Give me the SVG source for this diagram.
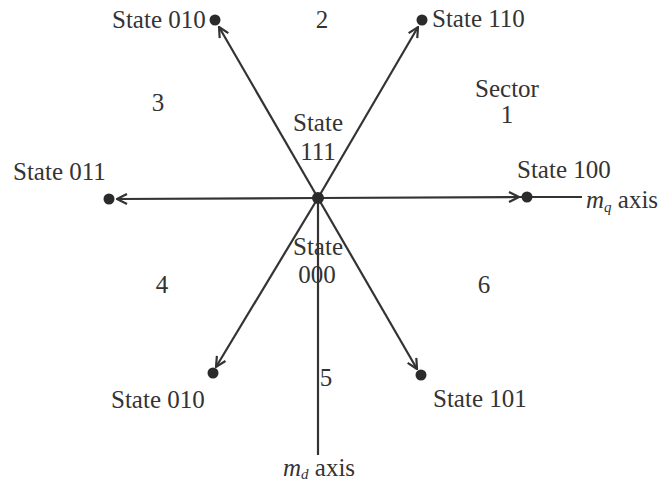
<svg xmlns="http://www.w3.org/2000/svg" width="662" height="485" viewBox="0 0 662 485">
<style>
text{font-family:"Liberation Serif","Tinos","DejaVu Serif","Times New Roman",serif;font-size:25px;fill:#333}
.ln{stroke:#333;stroke-width:2.2;fill:none}
.dot{fill:#2b2b2b}
.it{font-style:italic}
.sub{font-size:15px;font-style:italic}
</style>
<defs>
<marker id="ar" viewBox="0 0 12 12" refX="11" refY="6" markerWidth="12" markerHeight="12" markerUnits="userSpaceOnUse" orient="auto">
<polyline points="1,1 11,6 1,11" fill="none" stroke="#333" stroke-width="2.2"/>
</marker>
</defs>
<rect width="662" height="485" fill="#fff"/>
<g id="connectors">
<line class="ln" x1="318" y1="198" x2="219" y2="27" marker-end="url(#ar)"/>
<line class="ln" x1="318" y1="198" x2="418" y2="27" marker-end="url(#ar)"/>
<line class="ln" x1="318" y1="198" x2="117" y2="199" marker-end="url(#ar)"/>
<line class="ln" x1="318" y1="198" x2="519" y2="197" marker-end="url(#ar)"/>
<line class="ln" x1="318" y1="198" x2="216" y2="367" marker-end="url(#ar)"/>
<line class="ln" x1="318" y1="198" x2="417" y2="369" marker-end="url(#ar)"/>
<line class="ln" x1="519" y1="197" x2="582" y2="197"/>
<line class="ln" x1="318" y1="198" x2="318" y2="455"/>
</g>
<g id="center"><circle class="dot" cx="318" cy="198" r="6"/>
<text x="318" y="131" text-anchor="middle">State</text>
<text x="318" y="160" text-anchor="middle">111</text>
<text x="318" y="255" text-anchor="middle">State</text>
<text x="317" y="283" text-anchor="middle">000</text>
</g>
<g id="s010top"><circle class="dot" cx="215" cy="20" r="5.5"/><text x="112" y="28">State 010</text></g>
<g id="s110"><circle class="dot" cx="422" cy="20" r="5.5"/><text x="432" y="27">State 110</text></g>
<g id="s011"><circle class="dot" cx="109" cy="199" r="5.5"/><text x="13" y="180">State 011</text></g>
<g id="s100"><circle class="dot" cx="527" cy="197" r="5.5"/><text x="517" y="178">State 100</text></g>
<g id="s010bot"><circle class="dot" cx="213" cy="373" r="5.5"/><text x="111" y="408">State 010</text></g>
<g id="s101"><circle class="dot" cx="421" cy="375" r="5.5"/><text x="433" y="407">State 101</text></g>
<g id="labels">
<text x="322" y="28" text-anchor="middle">2</text>
<text x="507" y="97" text-anchor="middle">Sector</text>
<text x="507" y="123" text-anchor="middle">1</text>
<text x="158" y="111" text-anchor="middle">3</text>
<text x="162" y="293" text-anchor="middle">4</text>
<text x="484" y="293" text-anchor="middle">6</text>
<text x="326" y="386" text-anchor="middle">5</text>
<text x="586" y="208"><tspan class="it">m</tspan><tspan class="sub" dy="4">q</tspan><tspan dy="-4"> axis</tspan></text>
<text x="283" y="476"><tspan class="it">m</tspan><tspan class="sub" dy="3">d</tspan><tspan dy="-3"> axis</tspan></text>
</g>
</svg>
